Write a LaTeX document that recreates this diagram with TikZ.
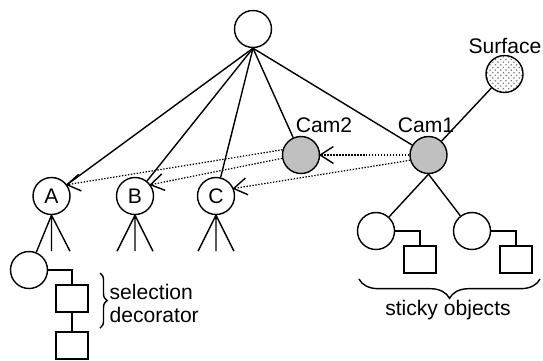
\documentclass[tikz,border=0pt]{standalone}
\usepackage{fontspec}
\setmainfont{Liberation Sans}
\usepackage{tikz}
\usetikzlibrary{patterns}
\usetikzlibrary{decorations.pathreplacing}
\usetikzlibrary{decorations.markings}
\definecolor{camgray}{RGB}{192, 192, 192}

\tikzset{
  obj/.style   ={circle, draw, minimum size=0.74cm, inner sep=0pt, font=\fontsize{12pt}{13pt}\selectfont},
  cam/.style   ={obj, fill=camgray},
  deco/.style  ={draw, minimum width=0.64cm, minimum height=0.54cm, inner sep=0pt},
  txt/.style   ={inner sep=0pt, font=\fontsize{12pt}{13.5pt}\selectfont},
  camref/.style={line width=0.7pt, dash pattern=on 0.8pt off 0.9pt,
                 postaction={decorate, decoration={markings,
                   mark=at position 1 with {\draw[solid, line width=0.8pt] (-7.5pt,4.8pt) -- (0pt,0pt) -- (-7.5pt,-4.8pt);}}}},
  grp/.style   ={decorate, decoration={brace, amplitude=#1}},
}

\begin{document}
\begin{tikzpicture}[x=0.02cm, y=-0.02cm, line width=0.8pt]
    \useasboundingbox (0,0) rectangle (543,360);
    % scene graph
    \node[obj] (root) at (253.0, 29.0) {};
    \node[obj] (A)    at ( 51.5,196.0) {A};
    \node[obj] (B)    at (135.0,196.0) {B};
    \node[obj] (C)    at (216.0,196.0) {C};
    \node[cam] (cam2) at (301.0,155.0) {};
    \node[cam] (cam1) at (428.5,155.0) {};
    \node[obj, preaction={fill=white}, pattern=crosshatch dots, pattern color=gray] (surf) at (504.5, 74.0) {};
    \node[txt] (cam2lbl) at (324.0,125.0) {Cam2};
    \node[txt] (cam1lbl) at (426.0,125.0) {Cam1};
    \node[txt] (surflbl) at (505.0, 46.0) {Surface};

    \foreach \n in {A,B,C,cam2,cam1}
        \draw (root.south) -- (\n);
    \draw (cam1) -- (surf);

    % selection decorator under A
    \node[obj]  (dec)  at ( 29.0,270.0) {};
    \node[deco] (sq1)  at ( 72.0,298.5) {};
    \node[deco] (sq2)  at ( 72.0,345.5) {};
    \draw (A.south) -- (dec);
    \draw (A.south) -- ++(0,36)  (A.south) -- ++(18.5,36);
    \draw (dec.east) -| (sq1.north);
    \draw (sq1.south) -- (sq2.north);
    \draw[grp=4pt] (100,273) -- (100,328);
    \node[txt, align=left, anchor=west] (sellbl) at (109,303.5) {selection\\decorator};

    \foreach \n in {B,C}
        \draw (\n.south) -- ++(-18,36) (\n.south) -- ++(0,36) (\n.south) -- ++(18,36);

    % sticky objects under Cam1
    \node[obj]  (s1)   at (376.0,231.0) {};
    \node[obj]  (s2)   at (472.0,231.0) {};
    \node[deco] (ssq1) at (420.0,259.5) {};
    \node[deco] (ssq2) at (516.0,259.5) {};
    \draw (cam1.south) -- (s1);
    \draw (cam1.south) -- (s2);
    \draw (s1.east) -| (ssq1.north);
    \draw (s2.east) -| (ssq2.north);
    \draw[grp=11pt] (540,279) -- (359,279);
    \node[txt] (stickylbl) at (448,310) {sticky objects};

    % camera references
    \draw[camref] (cam2.164) -- (A.36);
    \draw[camref] (cam2.190) -- (B.36);
    \draw[camref] (cam1.west) -- (cam2.east);
    \draw[camref] (cam1.196) -- (C.23);
\end{tikzpicture}
\end{document}
